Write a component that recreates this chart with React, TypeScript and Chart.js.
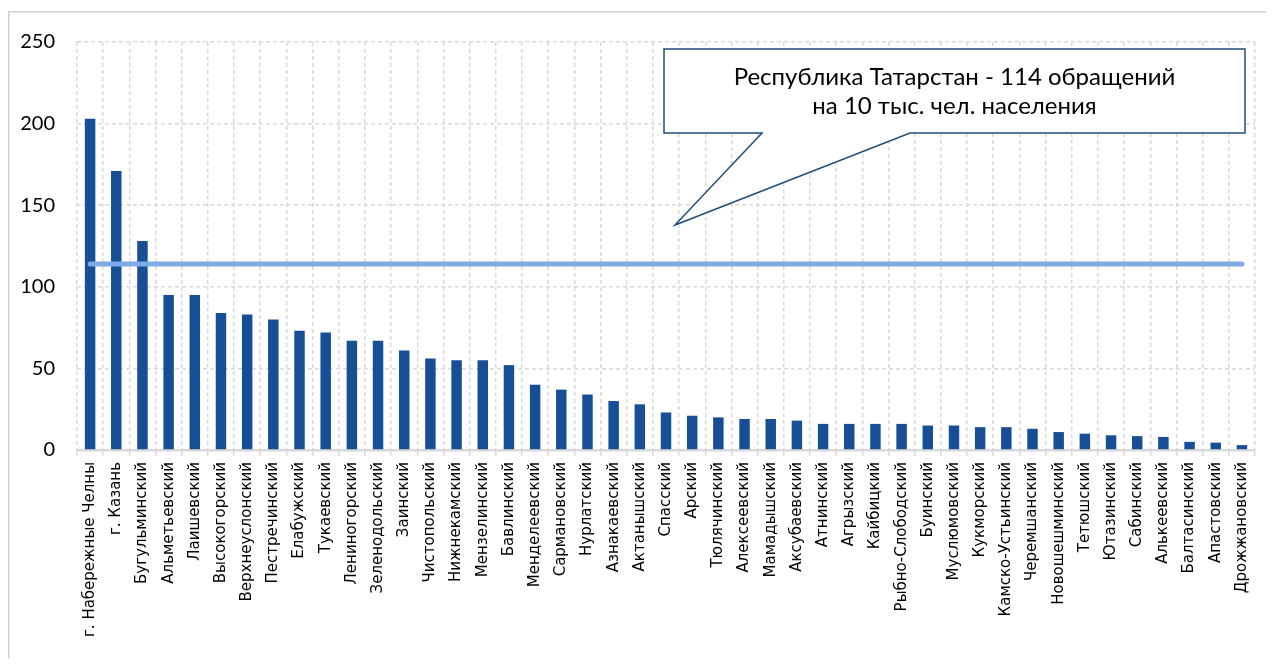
import { useEffect, useRef } from 'react';
import { Chart, registerables } from 'chart.js';

Chart.register(...registerables);

const districts: string[] = [
  'г. Набережные Челны', 'г. Казань', 'Бугульминский', 'Альметьевский', 'Лаишевский',
  'Высокогорский', 'Верхнеуслонский', 'Пестречинский', 'Елабужский', 'Тукаевский',
  'Лениногорский', 'Зеленодольский', 'Заинский', 'Чистопольский', 'Нижнекамский',
  'Мензелинский', 'Бавлинский', 'Менделеевский', 'Сармановский', 'Нурлатский',
  'Азнакаевский', 'Актанышский', 'Спасский', 'Арский', 'Тюлячинский',
  'Алексеевский', 'Мамадышский', 'Аксубаевский', 'Атнинский', 'Агрызский',
  'Кайбицкий', 'Рыбно-Слободский', 'Буинский', 'Муслюмовский', 'Кукморский',
  'Камско-Устьинский', 'Черемшанский', 'Новошешминский', 'Тетюшский', 'Ютазинский',
  'Сабинский', 'Алькеевский', 'Балтасинский', 'Апастовский', 'Дрожжановский',
];

const appealsPer10k: number[] = [
  203, 171, 128, 95, 95,
  84, 83, 80, 73, 72,
  67, 67, 61, 56, 55,
  55, 52, 40, 37, 34,
  30, 28, 23, 21, 20,
  19, 19, 18, 16, 16,
  16, 16, 15, 15, 14,
  14, 13, 11, 10, 9,
  8.5, 8, 5, 4.5, 3,
];

const republicAverage = 114;
const calloutLines: string[] = ['Республика Татарстан - 114 обращений', 'на 10 тыс. чел. населения'];
const yMin = 0;
const yMax = 250;
const yStep = 50;

const GRID = '#d9d9d9';

const decorPlugin = {
  id: 'decor',
  beforeDraw(chart: any) {
    const ctx = chart.ctx;
    ctx.save();
    ctx.strokeStyle = '#cfcfcf';
    ctx.lineWidth = 1.5;
    ctx.strokeRect(0.75, 3.75, chart.width + 20, chart.height + 20);
    ctx.restore();
  },
  afterDraw(chart: any) {
    const ctx = chart.ctx;
    const a = chart.chartArea;
    const left = a.left + 587;
    const right = a.left + 1168;
    const top = a.top + 7;
    const bottom = a.top + 91;
    const baseL = a.left + 685;
    const baseR = a.left + 833;
    const tipX = a.left + 598;
    const tipY = a.top + 183;
    ctx.save();
    ctx.beginPath();
    ctx.moveTo(left, top);
    ctx.lineTo(right, top);
    ctx.lineTo(right, bottom);
    ctx.lineTo(baseR, bottom);
    ctx.lineTo(tipX, tipY);
    ctx.lineTo(baseL, bottom);
    ctx.lineTo(left, bottom);
    ctx.closePath();
    ctx.fillStyle = '#ffffff';
    ctx.fill();
    ctx.strokeStyle = '#1f4e79';
    ctx.lineWidth = 1.5;
    ctx.lineJoin = 'miter';
    ctx.stroke();
    ctx.fillStyle = '#000000';
    ctx.font = '24px Lato, "Open Sans", sans-serif';
    ctx.textAlign = 'center';
    ctx.textBaseline = 'middle';
    const cx = (left + right) / 2;
    ctx.fillText(calloutLines[0], cx, a.top + 35);
    ctx.fillText(calloutLines[1], cx, a.top + 64);
    ctx.restore();
  },
};

export default function App() {
  const ref = useRef<HTMLCanvasElement>(null);
  useEffect(() => {
    if (!ref.current) return;
    const chart = new Chart(ref.current, {
      type: 'bar',
      data: {
        labels: districts,
        datasets: [
          {
            type: 'line',
            label: 'Республика Татарстан',
            data: [
              { x: districts[0], y: republicAverage },
              { x: districts[districts.length - 1], y: republicAverage },
            ] as any,
            borderColor: '#7eaae6',
            borderWidth: 5,
            borderCapStyle: 'round',
            pointRadius: 0,
            fill: false,
            order: 0,
          } as any,
          {
            type: 'bar',
            label: 'Обращений на 10 тыс.',
            data: appealsPer10k,
            backgroundColor: '#174e96',
            categoryPercentage: 1,
            barPercentage: 0.4,
            order: 1,
          },
        ],
      },
      options: {
        responsive: true,
        maintainAspectRatio: false,
        animation: false,
        layout: { padding: { left: 0, top: 33, right: 6, bottom: 0 } },
        plugins: { legend: { display: false }, tooltip: { enabled: false } },
        scales: {
          x: {
            grid: {
              color: GRID,
              lineWidth: 1.5,
              offset: true,
              drawTicks: true,
              tickLength: 6,
              tickColor: GRID,
              tickWidth: 1.5,
              tickBorderDash: [],
            },
            border: { display: true, color: GRID, width: 2.5, dash: [4, 3] },
            ticks: {
              autoSkip: false,
              minRotation: 90,
              maxRotation: 90,
              padding: 6,
              color: '#000000',
              font: { family: '"DejaVu Sans", sans-serif', size: 15 },
            },
            afterFit: (s: any) => { s.height = 208; },
          },
          y: {
            min: yMin,
            max: yMax,
            grid: { color: GRID, lineWidth: 1.5, drawTicks: false },
            border: { display: false, dash: [4, 3] },
            ticks: {
              stepSize: yStep,
              padding: 22,
              color: '#000000',
              font: { family: 'Lato, "Open Sans", sans-serif', size: 20 },
            },
            afterFit: (s: any) => { s.width = 69; },
          },
        },
      },
      plugins: [decorPlugin],
    });
    return () => chart.destroy();
  }, []);
  return (
    <div style={{ position: 'relative', width: 1258, height: 650 }}>
      <canvas ref={ref} />
    </div>
  );
}
